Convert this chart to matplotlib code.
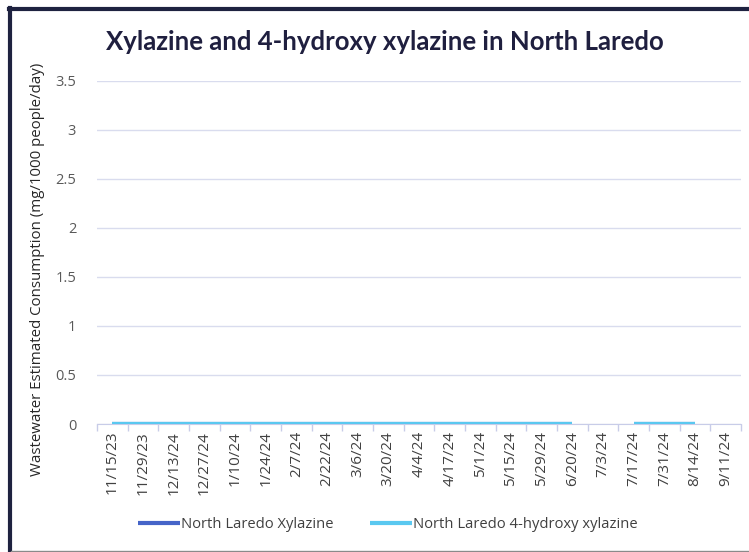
import numpy as np
import matplotlib.pyplot as plt
from matplotlib.lines import Line2D

dates = ["11/15/23", "11/29/23", "12/13/24", "12/27/24", "1/10/24", "1/24/24",
         "2/7/24", "2/22/24", "3/6/24", "3/20/24", "4/4/24", "4/17/24",
         "5/1/24", "5/15/24", "5/29/24", "6/20/24", "7/3/24", "7/17/24",
         "7/31/24", "8/14/24", "9/11/24"]

nan = np.nan
xylazine = [0, 0, 0, 0, 0, 0, 0, 0, 0, 0, 0, 0, 0, 0, 0, 0, nan, 0, 0, 0, nan]
hydroxy_xylazine = [0, 0, 0, 0, 0, 0, 0, 0, 0, 0, 0, 0, 0, 0, 0, 0, nan, 0, 0, 0, nan]

yticks = [0, 0.5, 1, 1.5, 2, 2.5, 3, 3.5]
ytick_labels = ["0", "0.5", "1", "1.5", "2", "2.5", "3", "3.5"]

plt.rcParams["font.family"] = ["Open Sans", "DejaVu Sans"]

W, H = 749, 552
fig = plt.figure(figsize=(W / 100, H / 100), dpi=100)
ax = fig.add_axes([97 / W, 1 - 424 / H, (741 - 97) / W, (424 - 80.7) / H])

x = np.arange(len(dates))
ax.plot(x, xylazine, color="#4564C8", linewidth=3, label="North Laredo Xylazine",
        solid_capstyle="butt", zorder=3)
ax.plot(x, hydroxy_xylazine, color="#5AC8F0", linewidth=3,
        label="North Laredo 4-hydroxy xylazine", solid_capstyle="butt", zorder=4)

ax.set_xlim(-0.5, len(dates) - 0.5)
ax.set_ylim(0, 3.5)
ax.set_yticks(yticks)
ax.set_yticklabels(ytick_labels)
ax.yaxis.grid(True, color="#D9DCEE", linewidth=1)
ax.set_axisbelow(True)
ax.tick_params(axis="y", length=0, pad=15, labelsize=10.5, labelcolor="#595959")

ax.set_xticks(x)
ax.set_xticklabels(dates, rotation=90, fontsize=11, color="#404040")
ax.set_xticks(np.arange(-0.5, len(dates)), minor=True)
ax.tick_params(axis="x", which="major", length=0, pad=5)
ax.tick_params(axis="x", which="minor", length=5, color="#C8CCE8", width=1)

for side in ["top", "right", "left"]:
    ax.spines[side].set_visible(False)
ax.spines["bottom"].set_color("#C8CCE8")

ax.set_ylabel("Wastewater Estimated Consumption (mg/1000 people/day)",
              fontsize=10.8, color="#262626")
ax.yaxis.set_label_coords(-0.08, 0.45)

fig.text(385 / W, 1 - 42 / H, "Xylazine and 4-hydroxy xylazine in North Laredo",
         ha="center", va="center", fontsize=18.5, fontweight="bold",
         color="#1F1F3F", family=["Lato", "DejaVu Sans"])

leg = fig.legend(loc="center", bbox_to_anchor=(388 / W, 1 - 525 / H), ncol=2,
                 frameon=False, fontsize=10.6, handlelength=2.8, handletextpad=0.1,
                 columnspacing=2.5)
for t in leg.get_texts():
    t.set_color("#404040")

# outer frame
fig.add_artist(Line2D([10 / W, 10 / W], [0, 1 - 8 / H], color="#1E2240",
                      linewidth=3, transform=fig.transFigure))
fig.add_artist(Line2D([8.5 / W, 1], [1 - 9 / H, 1 - 9 / H], color="#1E2240",
                      linewidth=3, transform=fig.transFigure))
fig.add_artist(Line2D([11 / W, 1], [1 - 551 / H, 1 - 551 / H], color="#8A8A8A",
                      linewidth=1, transform=fig.transFigure))

fig.savefig("out.png", dpi=100)
